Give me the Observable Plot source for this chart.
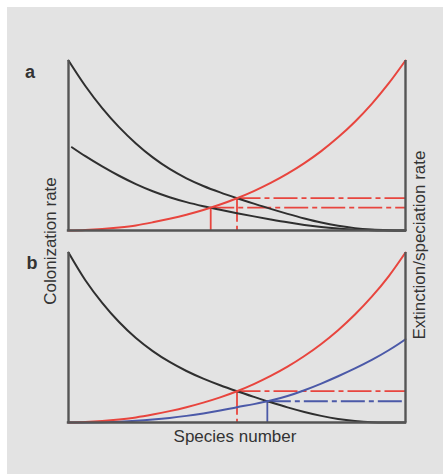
<!DOCTYPE html>
<html><head><meta charset="utf-8">
<script src="https://cdn.jsdelivr.net/npm/d3@7"></script>
<script src="https://cdn.jsdelivr.net/npm/@observablehq/plot@0.6"></script>
<style>
html,body{margin:0;padding:0;background:#fff;overflow:hidden}
#fig{position:relative;width:443px;height:474px}
#bg{position:absolute;left:7px;top:7px;width:436px;height:467px;background:#e3e3e3}
.lab{position:absolute;font-family:"Liberation Sans",Arial,sans-serif;font-size:17px;color:#333;white-space:nowrap;transform:translate(-50%,-50%)}
.rot{transform:translate(-50%,-50%) rotate(-90deg)}
.pl{position:absolute;font-family:"Liberation Sans",Arial,sans-serif;font-size:18px;font-weight:bold;color:#333;transform:translate(-50%,-50%)}
.panel{position:absolute;left:0}
</style></head><body>
<div id="fig"><div id="bg"></div></div>
<script>
// Species number (relative, 0 = none, 1 = pool size)
const speciesNumber = [0, 0.05, 0.1, 0.15, 0.2, 0.25, 0.3, 0.35, 0.4, 0.45, 0.5,
                       0.55, 0.6, 0.65, 0.7, 0.75, 0.8, 0.85, 0.9, 0.95, 1.0];

// Panel a
const extinctionHighA = [1.0, 0.85, 0.72, 0.608, 0.512, 0.43, 0.362, 0.307, 0.262, 0.224, 0.19,
                         0.158, 0.127, 0.098, 0.071, 0.047, 0.028, 0.014, 0.006, 0.002, 0.0];
const extinctionLowA  = [0.49, 0.437, 0.377, 0.322, 0.273, 0.231, 0.196, 0.167, 0.143, 0.122, 0.102,
                         0.083, 0.065, 0.048, 0.033, 0.021, 0.012, 0.005, 0.002, 0.0, 0.0];
const colonizationA   = [0.0, 0.003, 0.009, 0.018, 0.03, 0.048, 0.069, 0.093, 0.121, 0.153, 0.19,
                         0.232, 0.28, 0.3345, 0.3965, 0.467, 0.548, 0.64, 0.745, 0.865, 1.0];
const equilibriumAx = [0.422, 0.5];
const equilibriumAy = [0.134, 0.19];

// Panel b
const extinctionB     = [1.0, 0.837, 0.704, 0.591, 0.497, 0.42, 0.356, 0.303, 0.258, 0.219, 0.184,
                         0.151, 0.119, 0.089, 0.062, 0.039, 0.021, 0.009, 0.002, 0.0, 0.0];
const colonizationB   = [0.0, 0.003, 0.009, 0.018, 0.03, 0.047, 0.067, 0.09, 0.117, 0.148, 0.184,
                         0.226, 0.274, 0.3285, 0.391, 0.462, 0.543, 0.635, 0.74, 0.86, 1.0];
const colonizationB2  = [0.0, 0.0005, 0.002, 0.005, 0.01, 0.0175, 0.027, 0.039, 0.0535, 0.0705, 0.09,
                         0.108, 0.129, 0.156, 0.19, 0.229, 0.272, 0.318, 0.368, 0.425, 0.49];
const equilibriumBx = [0.5, 0.59];
const equilibriumBy = [0.184, 0.125];

const labels = {
  a: "a", b: "b",
  yLeft: "Colonization rate",
  yRight: "Extinction/speciation rate",
  x: "Species number"
};

const RED = "#e8453e", BLUE = "#4b59a8", BLACK = "#2f2f2f", AXIS = "#555555";
const DASHDOT = "24,4,5,4";

function series(ys, startX) {
  return speciesNumber.map((x, i) => ({x: i === 0 && startX != null ? startX : x, y: ys[i]}));
}

function panel({top, height, marginTop, marginBottom, curves, eqX, eqY, eqColors, eqVertDash}) {
  const marks = [];
  eqX.forEach((ex, i) => {
    marks.push(Plot.ruleX([ex], {y1: eqY[i], y2: 0, stroke: eqColors[i], strokeWidth: 1.8, strokeDasharray: eqVertDash[i]}));
    marks.push(Plot.ruleY([eqY[i]], {x1: ex, x2: 1, stroke: eqColors[i], strokeWidth: 1.8, strokeDasharray: DASHDOT}));
  });
  curves.forEach(c => {
    marks.push(Plot.line(c.data, {x: "x", y: "y", stroke: c.color, strokeWidth: 2, curve: "catmull-rom"}));
  });
  marks.push(Plot.ruleX([0, 1], {stroke: AXIS, strokeWidth: 2.4}));
  marks.push(Plot.ruleY([0], {stroke: AXIS, strokeWidth: 2.4, strokeLinecap: "square"}));
  const svg = Plot.plot({
    width: 443, height, marginLeft: 68, marginRight: 38, marginTop, marginBottom,
    x: {domain: [0, 1], axis: null},
    y: {domain: [0, 1], axis: null},
    style: {background: "transparent", overflow: "visible"},
    marks
  });
  svg.classList.add("panel");
  svg.style.top = top + "px";
  document.getElementById("fig").appendChild(svg);
}

panel({
  top: 0, height: 240, marginTop: 60, marginBottom: 10,
  curves: [
    {data: series(extinctionHighA), color: BLACK},
    {data: series(extinctionLowA, 0.01), color: BLACK},
    {data: series(colonizationA), color: RED}
  ],
  eqX: equilibriumAx, eqY: equilibriumAy, eqColors: [RED, RED], eqVertDash: [null, DASHDOT]
});

panel({
  top: 240, height: 200, marginTop: 12, marginBottom: 18,
  curves: [
    {data: series(extinctionB), color: BLACK},
    {data: series(colonizationB2), color: BLUE},
    {data: series(colonizationB), color: RED}
  ],
  eqX: equilibriumBx, eqY: equilibriumBy, eqColors: [RED, BLUE], eqVertDash: [DASHDOT, DASHDOT]
});

function addLabel(text, cls, x, y) {
  const d = document.createElement("div");
  d.className = cls;
  d.textContent = text;
  d.style.left = x + "px";
  d.style.top = y + "px";
  document.getElementById("fig").appendChild(d);
}
addLabel(labels.a, "pl", 30, 72);
addLabel(labels.b, "pl", 32, 263);
addLabel(labels.yLeft, "lab rot", 51, 241);
addLabel(labels.yRight, "lab rot", 420, 245);
addLabel(labels.x, "lab", 235, 437);
</script>
</body></html>
